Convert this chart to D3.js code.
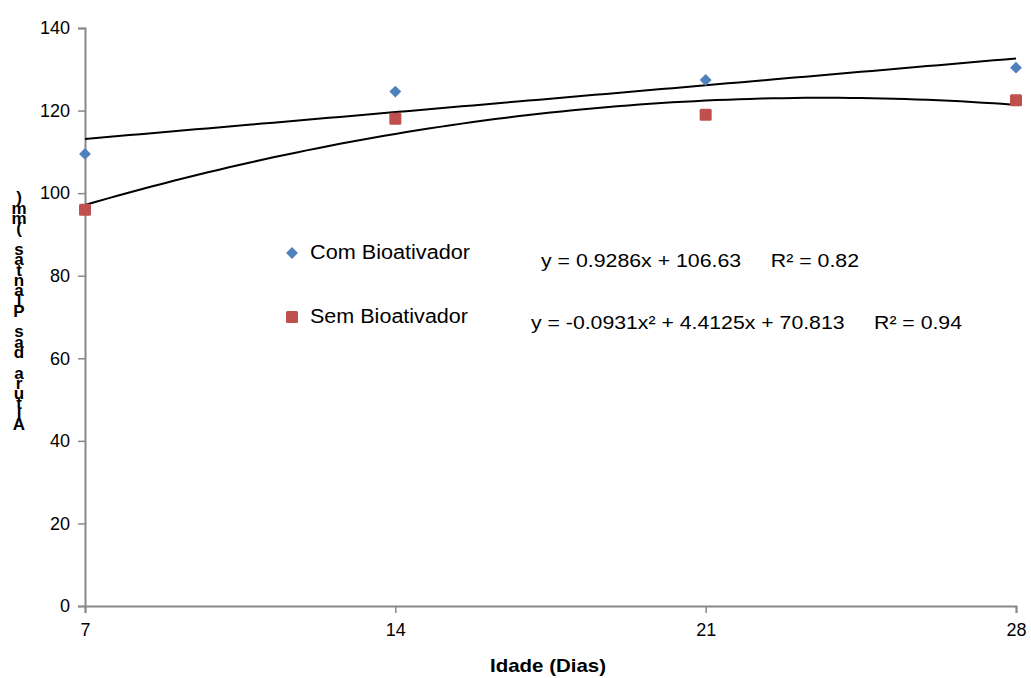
<!DOCTYPE html>
<html><head><meta charset="utf-8">
<script src="https://d3js.org/d3.v7.min.js"></script>
<style>
body{margin:0;background:#fff;}
text{font-family:"Liberation Sans Narrow","Liberation Sans",Arial,sans-serif;}
</style></head>
<body><svg id="c" width="1031" height="678"></svg>
<script>
const days = [7, 14, 21, 28];
const comBio = [109.5, 124.6, 127.4, 130.4];
const semBio = [96.0, 118.0, 119.0, 122.5];
const yTicks = [0, 20, 40, 60, 80, 100, 120, 140];
const linCoef = [106.63, 0.9286];            // a + b x
const quadCoef = [70.813, 4.4125, -0.0931];  // a + b x + c x^2
const seriesNames = ["Com Bioativador", "Sem Bioativador"];
const eqTexts = ["y = 0.9286x + 106.63     R\u00B2 = 0.82", "y = -0.0931x\u00B2 + 4.4125x + 70.813     R\u00B2 = 0.94"];
const xLabel = "Idade (Dias)";
const yLabel = "Altura das Plantas (mm)";

const svg = d3.select("#c");
const x = d3.scaleLinear().domain([7, 28]).range([85, 1016]);
const y = d3.scaleLinear().domain([0, 140]).range([606, 28]);
const blue = "#4f81bd", red = "#c0504d";

// axes
const yAx = svg.append("g").attr("transform", "translate(85,0)")
  .call(d3.axisLeft(y).tickValues(yTicks).tickSize(7).tickPadding(8).tickFormat(d3.format("d")));
const xAx = svg.append("g").attr("transform", "translate(0,606)")
  .call(d3.axisBottom(x).tickValues(days).tickSize(7).tickPadding(10).tickFormat(d3.format("d")));
[yAx, xAx].forEach(g => {
  g.select(".domain").attr("stroke", "#888").attr("stroke-width", 2);
  g.selectAll(".tick line").attr("stroke", "#888").attr("stroke-width", 1.5);
  g.selectAll(".tick text").attr("fill", "#000").style("font-size", "18px")
    .style("font-family", '"Liberation Sans Narrow","Liberation Sans",Arial,sans-serif');
});

// trendlines
const fine = d3.range(7, 28.001, 0.25);
const line = d3.line().x(d => x(d[0])).y(d => y(d[1]));
svg.append("path").datum(fine.map(t => [t, linCoef[0] + linCoef[1] * t]))
  .attr("d", line).attr("fill", "none").attr("stroke", "#000").attr("stroke-width", 2);
svg.append("path").datum(fine.map(t => [t, quadCoef[0] + quadCoef[1] * t + quadCoef[2] * t * t]))
  .attr("d", line).attr("fill", "none").attr("stroke", "#000").attr("stroke-width", 2);

// points
const diamond = d3.symbol().type(d3.symbolDiamond2).size(90);
svg.selectAll(".pc").data(days).enter().append("path")
  .attr("d", diamond).attr("fill", blue)
  .attr("transform", (d, i) => `translate(${x(d)},${y(comBio[i])})`);
svg.selectAll(".ps").data(days).enter().append("rect")
  .attr("x", d => x(d) - 6).attr("y", (d, i) => y(semBio[i]) - 6)
  .attr("width", 12).attr("height", 12).attr("rx", 1.5).attr("fill", red);

// legend
svg.append("path").attr("d", diamond).attr("fill", blue).attr("transform", "translate(292,253)");
svg.append("rect").attr("x", 286).attr("y", 311).attr("width", 12).attr("height", 12).attr("rx", 1.5).attr("fill", red);
svg.append("text").attr("x", 310).attr("y", 259).style("font-size", "20px")
  .attr("textLength", 160).attr("lengthAdjust", "spacingAndGlyphs").text(seriesNames[0]);
svg.append("text").attr("x", 310).attr("y", 323).style("font-size", "20px")
  .attr("textLength", 158).attr("lengthAdjust", "spacingAndGlyphs").text(seriesNames[1]);
svg.append("text").attr("x", 541).attr("y", 267).style("font-size", "19px")
  .style("white-space", "pre").attr("textLength", 318).attr("lengthAdjust", "spacingAndGlyphs").text(eqTexts[0]);
svg.append("text").attr("x", 531).attr("y", 329).style("font-size", "19px")
  .style("white-space", "pre").attr("textLength", 431).attr("lengthAdjust", "spacingAndGlyphs").text(eqTexts[1]);

// axis titles
svg.append("text").attr("x", 548).attr("y", 672).attr("text-anchor", "middle")
  .style("font-size", "19px").style("font-weight", "bold")
  .attr("textLength", 116).attr("lengthAdjust", "spacingAndGlyphs").text(xLabel);
const chars = yLabel.split("");
svg.append("g").selectAll("text").data(chars).enter().append("text")
  .attr("x", 19).attr("y", (d, i) => 430 - i * 10.3)
  .attr("text-anchor", "middle").style("font-size", "17px").style("font-weight", "bold")
  .text(d => d);
</script></body></html>
